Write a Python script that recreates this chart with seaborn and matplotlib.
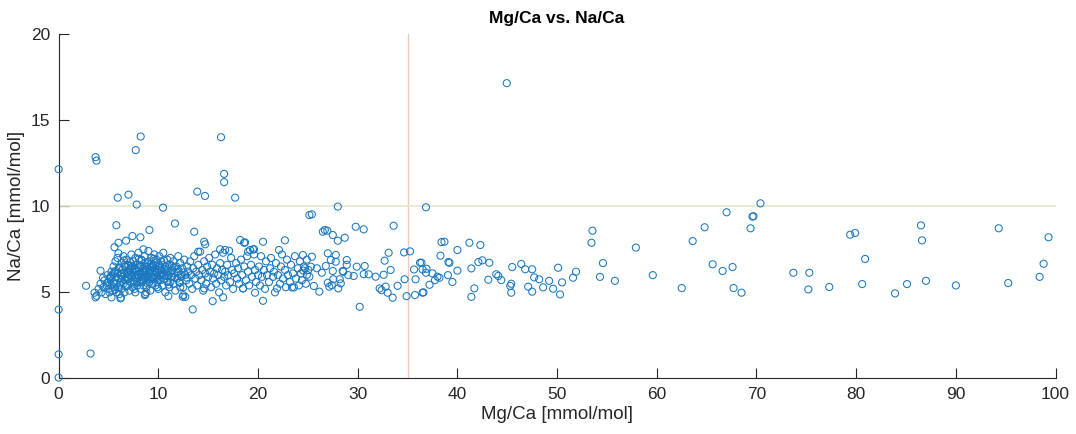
import matplotlib
matplotlib.use("Agg")
import matplotlib.pyplot as plt
import seaborn as sns
import pandas as pd

# Outliers and scattered points at low Mg/Ca
mg_edge = [0, 0, 0, 0, 3.2, 3.7, 3.8, 7.73, 8.23, 5.93, 7.0, 7.83, 10.47, 11.67, 16.29, 16.6, 16.6,
           13.9, 14.68, 17.7, 5.79, 9.1, 13.6, 7.4, 8.2, 6.76, 6.0, 5.6, 6.0, 8.5, 4.2, 2.75, 3.6,
           3.8, 3.7, 5.3, 6.2, 6.25, 7.7, 8.65, 8.7, 11.0, 12.45, 12.7, 12.5, 13.45, 15.45, 16.5,
           14.6, 14.7, 18.2, 18.6, 20.5, 22.7, 25.15, 16.2, 16.7, 17.1, 19.0, 19.2, 19.6, 22.1,
           14.0, 19.7, 20.5, 21.9, 23.4, 14.6, 18.5, 18.7, 19.5]
na_edge = [12.15, 4.0, 1.4, 0.05, 1.45, 12.85, 12.65, 13.26, 14.05, 10.5, 10.67, 10.1, 9.92, 9.0, 14.01, 11.88, 11.4,
           10.85, 10.6, 10.5, 8.9, 8.62, 8.52, 8.27, 8.2, 8.0, 7.88, 7.62, 7.27, 7.5, 6.26, 5.38, 4.98,
           4.8, 4.71, 4.71, 4.65, 4.7, 5.0, 4.84, 4.9, 4.78, 4.74, 4.74, 4.84, 4.01, 4.49, 4.71,
           7.94, 7.79, 8.04, 7.88, 7.94, 8.02, 9.49, 7.5, 7.46, 7.42, 7.36, 7.46, 7.5, 7.46,
           7.36, 4.98, 4.51, 5.23, 5.29, 5.23, 5.23, 7.9, 7.5]

# Dense core, Mg/Ca 4-13
mg_core = [4.0, 4.2, 4.3, 4.5, 4.6, 4.7, 4.8, 4.9, 5.0, 5.0, 5.1, 5.2, 5.3, 5.3, 5.4, 5.5, 5.5, 5.6,
           5.7, 5.7, 5.8, 5.8, 5.9, 5.9, 6.0, 6.0, 6.1, 6.1,
           6.2, 6.2, 6.3, 6.3, 6.4, 6.4, 6.5, 6.5, 6.6, 6.6, 6.7, 6.7, 6.8, 6.8, 6.9, 6.9, 7.0, 7.0,
           7.1, 7.1, 7.2, 7.2, 7.3, 7.3, 7.4, 7.4, 7.5, 7.5, 7.6, 7.6, 7.7, 7.7, 7.8, 7.8, 7.9, 7.9,
           8.0, 8.0,
           8.1, 8.1, 8.2, 8.2, 8.3, 8.3, 8.4, 8.4, 8.5, 8.5, 8.6, 8.6, 8.7, 8.7, 8.8, 8.8, 8.9, 8.9,
           9.0, 9.0, 9.1, 9.1, 9.2, 9.2, 9.3, 9.3, 9.4, 9.4, 9.5, 9.5, 9.6, 9.6, 9.7, 9.7, 9.8, 9.8,
           9.9, 9.9, 10.0, 10.0,
           10.1, 10.1, 10.2, 10.3, 10.3, 10.4, 10.5, 10.5, 10.6, 10.7, 10.7, 10.8, 10.9, 10.9, 11.0,
           11.1, 11.1, 11.2, 11.3, 11.4, 11.5, 11.5, 11.6, 11.7, 11.8, 11.9, 12.0, 12.0, 12.1, 12.2,
           12.3, 12.4, 12.5, 12.6, 12.7, 12.8, 12.9, 13.0,
           6.3, 6.9, 7.4, 7.9, 8.3, 8.6, 9.0, 9.4, 9.8, 10.2, 10.6, 11.0, 11.4, 7.1, 8.0, 8.9, 9.7,
           10.4, 6.6, 5.6, 7.6, 8.8, 9.9, 11.2, 12.2,
           5.15, 5.45, 5.75, 6.05, 6.35, 6.55, 6.85, 7.15, 7.35, 7.65, 7.85, 8.15, 8.35, 8.55, 8.75,
           8.95, 9.15, 9.35, 9.55, 9.75, 9.95, 10.15, 10.35, 10.65, 10.85, 11.15, 11.35, 11.65, 11.95,
           12.25, 12.55, 6.15, 6.75, 7.25, 7.55, 8.05, 8.45, 8.85, 9.25, 9.65, 10.05, 10.55, 11.05,
           11.55, 12.15, 4.45, 4.85, 5.25, 5.65, 12.85]
na_core = [5.2, 5.5, 5.0, 5.3, 5.7, 4.9, 5.4, 6.0, 5.2, 5.6, 5.0, 5.8, 5.4, 6.2, 5.1, 5.6, 6.5, 5.3,
           5.9, 6.8, 5.0, 5.5, 6.1, 7.0, 5.3, 5.8, 6.4, 4.9,
           5.6, 6.0, 6.7, 5.2, 5.9, 6.3, 5.5, 7.1, 6.1, 5.0, 5.7, 6.5, 5.9, 6.9, 5.4, 6.2, 5.8, 6.6,
           5.1, 6.0, 5.6, 6.4, 7.2, 5.9, 6.2, 5.3, 5.7, 6.8, 6.0, 5.5, 6.4, 7.0, 5.8, 6.2, 5.4, 6.6,
           5.9, 7.3,
           6.1, 5.6, 6.5, 5.2, 5.9, 6.9, 6.2, 5.7, 6.4, 5.4, 6.0, 7.1, 5.8, 6.7, 6.2, 5.3, 5.9, 6.5,
           6.1, 7.4, 5.6, 6.8, 6.3, 5.1, 5.9, 7.0, 6.2, 5.5, 6.6, 5.8, 6.0, 7.2, 5.4, 6.4, 5.9, 6.9,
           6.2, 5.6, 6.5, 5.2,
           6.0, 7.1, 5.7, 6.3, 6.8, 5.4, 6.1, 7.3, 5.8, 6.5, 5.0, 6.2, 5.6, 6.9, 6.0,
           5.3, 6.6, 7.0, 5.9, 6.3, 5.5, 6.8, 6.1, 5.1, 6.5, 5.8, 7.1, 6.2, 5.6, 6.7,
           5.9, 6.4, 5.3, 6.9, 6.0, 5.7, 6.5, 6.2,
           6.1, 5.9, 6.5, 6.0, 5.6, 6.3, 5.8, 6.5, 6.1, 6.4, 6.0, 6.4, 5.9, 6.3, 6.4, 6.0, 6.7,
           6.6, 6.6, 6.2, 5.2, 5.0, 5.3, 5.6, 5.3,
           5.85, 6.05, 6.25, 6.45, 5.75, 6.85, 6.15, 6.75, 5.95, 6.35, 5.65, 6.55, 6.85, 5.85, 6.25,
           6.75, 5.75, 6.45, 6.95, 6.15, 5.85, 6.55, 6.05, 6.35, 5.95, 6.15, 6.55, 5.85, 6.35,
           6.05, 6.15, 5.45, 5.35, 6.55, 6.15, 6.95, 6.05, 5.55, 6.65, 6.25, 5.75, 6.85, 5.45,
           6.45, 5.55, 5.85, 5.55, 5.95, 5.15, 5.85]

# Mg/Ca 13-25
mg_mid = [13.1, 13.2, 13.3, 13.4, 13.5, 13.6, 13.7, 13.8, 13.9, 14.0, 14.1, 14.2, 14.3, 14.4, 14.5,
          14.6, 14.7, 14.8, 14.9, 15.0, 15.1, 15.2, 15.3, 15.4, 15.5, 15.6, 15.7, 15.8, 15.9, 16.0,
          16.1, 16.2, 16.3, 16.4, 16.5, 16.6, 16.7, 16.8, 16.9, 17.0, 17.2, 17.3, 17.4, 17.5, 17.6,
          17.8, 17.9, 18.0, 18.1, 18.3, 18.4, 18.5, 18.6, 18.8, 18.9, 19.0, 19.1, 19.3, 19.4, 19.6,
          19.7, 19.8, 20.0,
          20.1, 20.2, 20.3, 20.4, 20.6, 20.7, 20.8, 20.9, 21.1, 21.2, 21.3, 21.5, 21.6, 21.7, 21.8,
          22.0, 22.2, 22.3, 22.4, 22.5, 22.7, 22.8, 22.9, 23.0, 23.2, 23.3, 23.5, 23.6, 23.7, 23.8,
          24.0, 24.1, 24.2, 24.3, 24.4, 24.6, 24.8, 24.9]
na_mid = [5.5, 6.8, 6.0, 5.2, 6.4, 7.1, 5.8, 6.2, 5.4, 6.6, 6.0, 7.36, 5.7, 6.3, 5.1,
          6.8, 6.1, 5.5, 6.5, 5.9, 7.0, 6.2, 5.3, 6.6, 5.8, 6.1, 7.2, 5.5, 6.4, 6.0,
          5.0, 6.7, 5.7, 6.3, 7.3, 5.9, 6.2, 5.4, 6.6, 6.0, 5.6, 7.0, 6.3, 5.2, 6.1,
          6.7, 5.8, 6.4, 5.5, 6.9, 6.0, 5.23, 6.5, 5.7, 7.1, 6.2, 5.4, 6.6, 5.9, 7.2,
          6.3, 5.6, 6.0,
          6.5, 5.4, 7.1, 5.9, 6.3, 5.2, 6.8, 6.0, 5.6, 6.4, 7.0, 5.9, 6.2, 5.0, 6.7,
          6.0, 5.5, 6.5, 7.2, 5.8, 6.3, 5.3, 6.9, 6.0, 5.6, 6.6, 6.1, 5.29, 7.1, 5.8,
          6.4, 5.4, 6.8, 6.1, 5.7, 6.5, 5.5, 6.9]

# Mg/Ca 24-37
mg_upper = [28.0, 36.85, 25.4, 26.5, 26.7, 26.95, 27.5, 28.0, 28.7, 29.8, 30.6, 33.6, 34.65, 35.25,
            33.1, 32.7, 33.3, 32.6, 31.8, 31.1, 30.6, 30.7, 29.9, 29.6, 28.9, 29.05, 28.5, 28.2,
            28.3, 27.8, 27.8, 27.0, 27.3, 26.8, 27.5, 27.55, 27.0, 27.15, 27.4, 28.05, 28.9, 28.55,
            26.4, 25.9, 25.3, 25.05, 24.7, 24.55, 24.9, 25.15, 24.5, 25.4, 25.6, 26.15, 30.2, 32.2,
            32.4, 32.8, 33.0, 33.5, 34.0, 34.7, 34.9, 35.75, 36.6, 35.65, 35.8, 36.4, 36.5, 36.85]
na_upper = [9.98, 9.94, 9.53, 8.52, 8.62, 8.58, 8.33, 8.0, 8.17, 8.81, 8.66, 8.87, 7.32, 7.38,
            7.3, 6.84, 6.3, 6.02, 5.91, 6.05, 6.06, 6.53, 6.49, 5.95, 6.6, 6.0, 6.24, 5.76,
            5.52, 6.78, 7.17, 7.27, 6.88, 6.53, 6.24, 5.76, 5.56, 5.33, 5.42, 5.23, 6.88, 6.2,
            6.14, 6.4, 6.49, 6.3, 6.4, 6.26, 6.02, 5.91, 7.17, 7.07, 5.37, 5.04, 4.16, 5.23,
            5.13, 5.33, 4.98, 4.69, 5.38, 5.76, 4.78, 4.84, 5.0, 6.33, 5.76, 6.72, 6.33, 6.14]

# Mg/Ca 36-52
mg_high = [38.4, 38.7, 41.2, 42.3, 40.0, 38.3, 36.25, 36.9, 37.5, 38.0, 37.75, 37.2, 36.5, 39.1,
           39.2, 39.05, 39.5, 38.2, 40.0, 41.4, 42.1, 42.5, 43.2, 43.1, 41.7, 41.4, 43.9, 44.1, 44.4,
           45.5, 45.3, 45.4, 45.4, 46.4, 46.8, 47.5, 47.7, 48.2, 47.1, 47.5, 48.6, 49.2, 49.6, 50.1,
           50.5, 50.3, 51.6, 51.9, 44.95]
na_high = [7.92, 7.94, 7.88, 7.75, 7.46, 7.13, 6.72, 6.37, 6.1, 5.91, 5.71, 5.44, 4.98, 6.76,
           6.72, 6.0, 5.6, 5.85, 6.26, 6.39, 6.76, 6.86, 6.72, 5.73, 5.23, 4.74, 6.05, 5.95, 5.71,
           6.47, 5.37, 5.5, 4.98, 6.65, 6.34, 6.34, 5.87, 5.76, 5.33, 5.04, 5.29, 5.67, 5.21, 6.43,
           5.58, 4.88, 5.85, 6.2, 17.15]

# Mg/Ca above 52
mg_tail = [53.55, 53.45, 57.9, 54.6, 54.3, 55.8, 59.6, 62.5, 63.6, 64.8, 65.6, 66.6, 67.0, 67.6,
           67.7, 68.5, 69.4, 69.6, 69.7, 70.4, 73.7, 75.3, 75.2, 77.3, 79.4, 79.9, 80.9, 80.6, 83.9,
           85.1, 86.5, 86.6, 87.0, 90.0, 94.3, 95.25, 98.4, 98.8, 99.3]
na_tail = [8.58, 7.88, 7.6, 6.7, 5.9, 5.67, 6.0, 5.25, 7.98, 8.78, 6.63, 6.24, 9.65, 6.47,
           5.25, 4.98, 8.72, 9.4, 9.42, 10.17, 6.14, 6.14, 5.17, 5.31, 8.35, 8.45, 6.94, 5.48, 4.94,
           5.48, 8.89, 8.02, 5.67, 5.4, 8.72, 5.54, 5.9, 6.66, 8.2]

mg_limit = 35
na_limit = 10

df = pd.DataFrame({
    "mg": mg_edge + mg_core + mg_mid + mg_upper + mg_high + mg_tail,
    "na": na_edge + na_core + na_mid + na_upper + na_high + na_tail,
})

sns.set_theme(style="white")
from matplotlib import font_manager
available = {f.name for f in font_manager.fontManager.ttflist}
family = [f for f in ["Liberation Sans", "Arial", "DejaVu Sans"] if f in available]
plt.rcParams["font.family"] = family

axis_color = "#262626"
fig = plt.figure(figsize=(10.76, 4.34), dpi=100)
ax = fig.add_axes([0.0545, 0.128, 0.9265, 0.7935])

ax.axvline(mg_limit, color="#f0c8b8", lw=1.0, zorder=1)
ax.axhline(na_limit, color="#e2e8cc", lw=1.2, zorder=1)

sns.scatterplot(data=df, x="mg", y="na", ax=ax, marker="o", s=26,
                facecolor="none", edgecolor="#1a78c0", linewidth=0.75, zorder=3,
                clip_on=False)

ax.set_xlim(0, 100)
ax.set_ylim(0, 20)
ax.set_xticks(range(0, 101, 10))
ax.set_yticks([0, 5, 10, 15, 20])

for side in ["top", "right"]:
    ax.spines[side].set_visible(False)
for side in ["left", "bottom"]:
    ax.spines[side].set_color(axis_color)
    ax.spines[side].set_linewidth(0.8)

ax.tick_params(bottom=True, left=True, top=False, right=False,
               direction="in", length=7, width=0.8, color=axis_color,
               labelcolor=axis_color, labelsize=12.5, pad=6)

ax.set_xlabel("Mg/Ca [mmol/mol]", fontsize=13.5, color=axis_color, labelpad=3)
ax.set_ylabel("Na/Ca [mmol/mol]", fontsize=13.5, color=axis_color, labelpad=4)
ax.set_title("Mg/Ca vs. Na/Ca", fontsize=12.5, fontweight="bold", color="black", pad=8)

fig.savefig("out.png", dpi=100, facecolor="white")
